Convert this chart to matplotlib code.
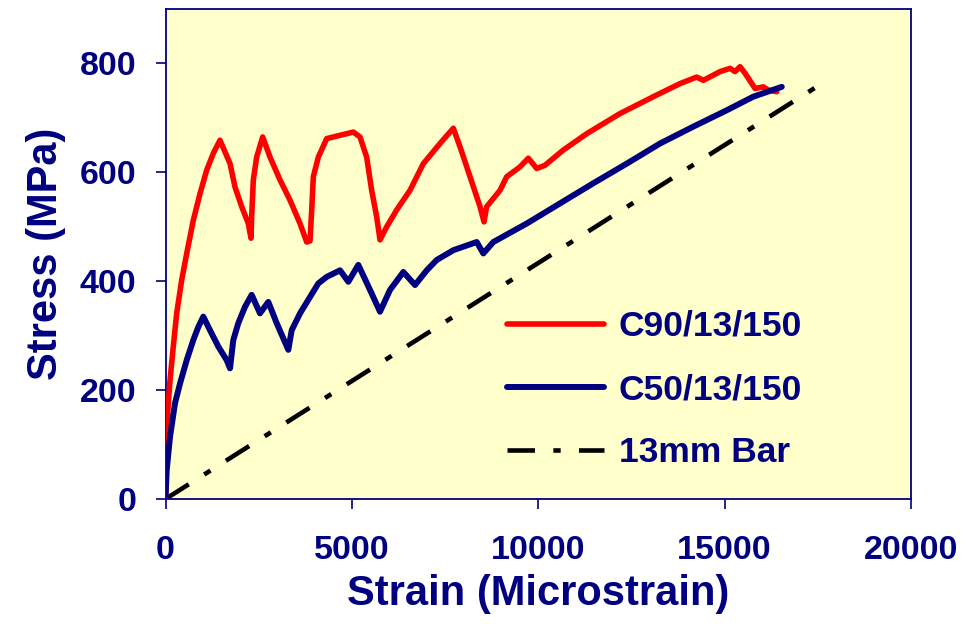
import matplotlib
matplotlib.use("Agg")
import matplotlib.pyplot as plt

# ---- data ----
strain_c90 = [0, 20, 30, 60, 75, 121, 209, 300, 434, 569, 746, 926, 1105, 1283, 1462,
              1731, 1865, 2044, 2222, 2294, 2312, 2356, 2446, 2607, 2804, 3072, 3340,
              3609, 3788, 3877, 3922, 3966, 4100, 4325, 5039, 5218, 5397, 5531, 5666,
              5755, 5934, 6203, 6560, 6917, 7365, 7722, 7901, 8170, 8438, 8545, 8617,
              8975, 9154, 9511, 9734, 9960, 10182, 10673, 11301, 12195, 13089, 13804,
              14251, 14430, 14877, 15146, 15280, 15414, 15548, 15817, 16040, 16174, 16398]
stress_c90 = [0, 60, 100, 160, 176, 218, 280, 341, 402, 451, 512, 561, 604, 635, 659,
              616, 573, 537, 506, 479, 518, 586, 628, 665, 628, 586, 549,
              506, 472, 474, 531, 592, 628, 662, 674, 665, 628, 567, 518,
              476, 500, 531, 567, 616, 653, 681, 647, 592, 537, 509, 537,
              567, 592, 610, 626, 607, 613, 641, 671, 708, 739, 763,
              775, 769, 785, 791, 785, 794, 782, 754, 757, 751, 748]

strain_c50 = [0, 32, 121, 255, 389, 569, 746, 880, 1014, 1194, 1417, 1642, 1731, 1819,
              1953, 2133, 2312, 2535, 2758, 2983, 3295, 3386, 3609, 3877, 4100, 4325,
              4682, 4905, 5173, 5487, 5755, 6023, 6381, 6694, 7008, 7276, 7722, 8349,
              8527, 8795, 9691, 10585, 11478, 12374, 13268, 14161, 15057, 15771, 16533]
stress_c50 = [0, 53, 114, 176, 212, 255, 292, 316, 335, 310, 280, 255, 240, 292,
              323, 353, 375, 341, 362, 323, 274, 310, 341, 371, 396, 408,
              420, 399, 430, 384, 344, 384, 417, 393, 420, 439, 457, 472,
              451, 472, 506, 543, 580, 616, 653, 684, 714, 739, 757]

strain_bar = [0, 17650]
stress_bar = [0, 765]

series_labels = ["C90/13/150", "C50/13/150", "13mm Bar"]
x_ticks = [0, 5000, 10000, 15000, 20000]
y_ticks = [0, 200, 400, 600, 800]

NAVY = "#000080"
plt.rcParams['font.family'] = ['Liberation Sans', 'DejaVu Sans']

fig = plt.figure(figsize=(9.66, 6.24), dpi=100)
ax = fig.add_axes([165.5/966, 1 - 499/624, (911-165.5)/966, (499-9)/624])
ax.set_facecolor("#FFFFCC")

ax.plot(strain_c90, stress_c90, color="#FF0000", lw=4, solid_joinstyle="round",
        solid_capstyle="round", label=series_labels[0], zorder=3)
ax.plot(strain_c50, stress_c50, color=NAVY, lw=4.3, solid_joinstyle="round",
        solid_capstyle="round", label=series_labels[1], zorder=4)
bar_line, = ax.plot(strain_bar, stress_bar, color="black", lw=3.3,
                    dash_capstyle="butt", label=series_labels[2], zorder=2)
bar_line.set_dashes([6.0, 4.0, 1.6, 4.0])

ax.set_xlim(0, 20000)
ax.set_ylim(0, 900)
ax.set_xticks(x_ticks)
ax.set_yticks(y_ticks)
ax.set_xticklabels([str(v) for v in x_ticks])
ax.set_yticklabels([str(v) for v in y_ticks])

for sp in ax.spines.values():
    sp.set_color(NAVY)
    sp.set_linewidth(1.3)

ax.tick_params(axis="both", direction="out", length=7, width=1.2, color=NAVY,
               labelcolor=NAVY, labelsize=24.5)
ax.tick_params(axis="x", pad=19)
ax.tick_params(axis="y", pad=14)
for lab in ax.get_xticklabels() + ax.get_yticklabels():
    lab.set_fontweight("bold")

ax.set_xlabel("Strain (Microstrain)", fontsize=30, fontweight="bold", color=NAVY,
              labelpad=6)
ax.set_ylabel("Stress (MPa)", fontsize=30, fontweight="bold", color=NAVY,
              labelpad=10)

leg = ax.legend(loc="upper left", bbox_to_anchor=((507-165.5)/745.5, (499-310)/490),
                frameon=False, fontsize=25.5, handlelength=2.75, handletextpad=0.4,
                labelspacing=0.85, borderpad=0, borderaxespad=0)
for t in leg.get_texts():
    t.set_color(NAVY)
    t.set_fontweight("bold")

fig.savefig("out.png", dpi=100)
